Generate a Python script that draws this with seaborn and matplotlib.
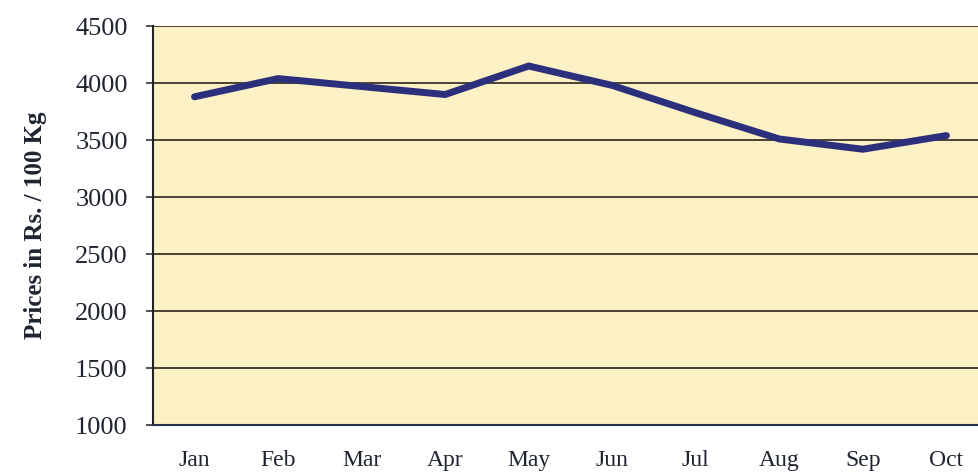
import pandas as pd
import matplotlib.pyplot as plt
import seaborn as sns

# Monthly prices (Rs. / 100 Kg)
months = ['Jan', 'Feb', 'Mar', 'Apr', 'May', 'Jun', 'Jul', 'Aug', 'Sep', 'Oct']
prices = [3880, 4040, 3970, 3900, 4150, 3980, 3740, 3510, 3420, 3540]
y_ticks = [1000, 1500, 2000, 2500, 3000, 3500, 4000, 4500]

df = pd.DataFrame({'Month': months, 'Price': prices})
df['pos'] = range(len(months))

sns.set_style('white')
plt.rcParams['font.family'] = ['Liberation Serif', 'DejaVu Serif']

fig = plt.figure(figsize=(9.79, 4.75), dpi=100)
ax = fig.add_axes([0.156, 0.105, 0.844, 0.84])
ax.set_facecolor('#fbf1c4')

# horizontal gridlines
for v in y_ticks:
    ax.axhline(v, color='#3d3426', linewidth=1.3, zorder=1)

sns.lineplot(data=df, x='pos', y='Price', ax=ax, color='#2c2f7c',
             linewidth=5, zorder=3, legend=False)

ax.set_ylim(1000, 4500)
ax.set_xlim(-0.5, 9.39)
ax.set_yticks(y_ticks)
ax.set_yticklabels([str(v) for v in y_ticks], fontsize=19, color='#1e2430')

# category labels centred, tick marks between categories
ax.set_xticks(df['pos'])
ax.set_xticklabels(months, fontsize=17, color='#1e2430')
ax.set_xticks([i + 0.5 for i in range(-1, 9)], minor=True)
ax.tick_params(axis='x', which='major', length=0, pad=18)
ax.tick_params(axis='x', which='minor', length=5, width=1.2, color='#333333', direction='out')
ax.tick_params(axis='y', length=5, width=1.2, color='#333333', direction='out', left=True, pad=13)

for s in ['top', 'right']:
    ax.spines[s].set_visible(False)
ax.spines['left'].set_color('#222222')
ax.spines['left'].set_linewidth(1.5)
ax.spines['bottom'].set_color('#2a3050')
ax.spines['bottom'].set_linewidth(1.5)

ax.set_xlabel('')
ax.set_ylabel('Prices in Rs. / 100 Kg', fontsize=18, fontweight='bold', color='#1e2430', labelpad=20)

fig.savefig('out.png', dpi=100)
